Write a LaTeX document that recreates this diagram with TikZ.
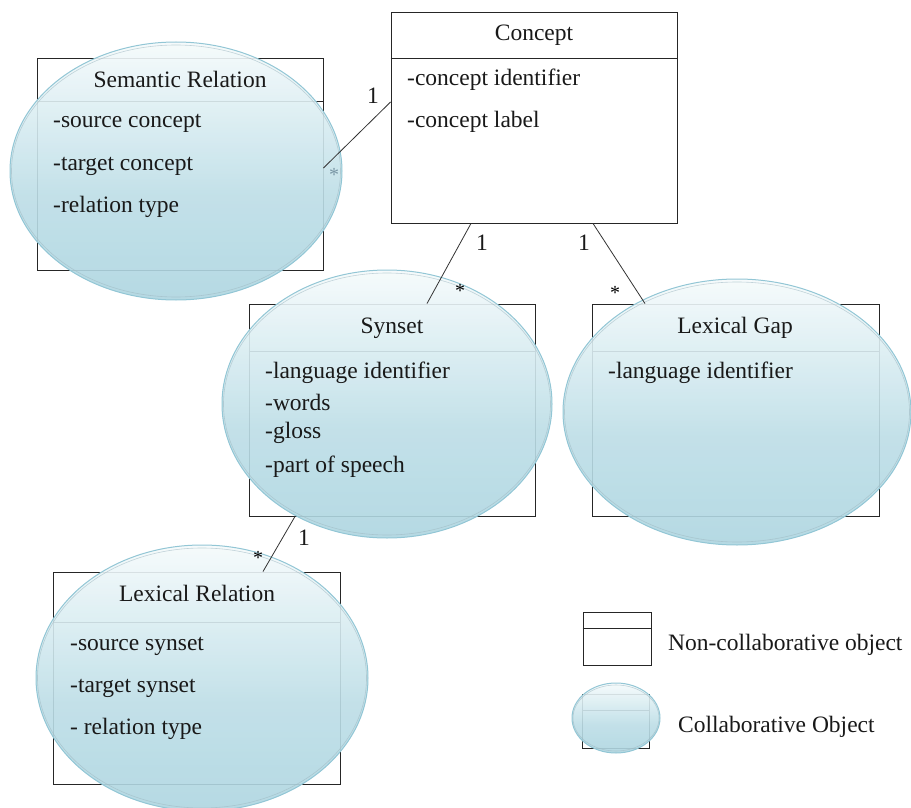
\documentclass[tikz,border=0pt]{standalone}
\usepackage{fontspec}
\setmainfont{Liberation Serif}
\definecolor{ellline}{HTML}{92C6D5}
\definecolor{ellinner}{HTML}{9FB9C2}
\definecolor{elltop}{HTML}{F5FAFB}
\definecolor{ellupper}{HTML}{D8ECF1}
\definecolor{ellmid}{HTML}{BCDDE6}
\definecolor{ellbot}{HTML}{ADD5E0}
\definecolor{stargrey}{HTML}{7A97A6}
\pgfdeclareverticalshading{collabshade}{100bp}{color(0bp)=(ellbot); color(25bp)=(ellbot); color(45bp)=(ellmid); color(60bp)=(ellupper); color(75bp)=(elltop); color(100bp)=(elltop)}
\tikzset{
 umlbox/.style={draw=black!85, line width=0.9pt, inner sep=0pt, minimum width=286pt, minimum height=212pt},
 hdr/.style={draw=black!85, line width=0.9pt},
 collab/.style={shading=collabshade, shade, fill opacity=0.9, draw=ellline, line width=1pt},
 glow/.style={draw=ellinner, line width=0.6pt, opacity=0.6},
 txt/.style={font=\fontsize{23.5}{28}\selectfont, inner sep=0pt, anchor=base west, text=black!90},
 ttl/.style={txt, anchor=base},
 mult/.style={font=\fontsize{23.5}{28}\selectfont, inner sep=0pt, anchor=center, text=black!90},
 starlbl/.style={font=\fontsize{20}{22}\selectfont, inner sep=0pt, anchor=center},
 conn/.style={draw=black!80, line width=0.8pt}
}
\begin{document}
\begin{tikzpicture}[x=1pt,y=-1pt]
\useasboundingbox (0,0) rectangle (911,808);
% ---------- boxes ----------
\node[umlbox, minimum height=211pt] (concept) at (534,117.5) {};
\node[umlbox] (semrel) at (180,164) {};
\node[umlbox] (synset) at (392,410) {};
\node[umlbox, minimum width=287pt] (lexgap) at (735.5,410) {};
\node[umlbox, minimum width=287pt] (lexrel) at (196.5,678) {};
\node[umlbox, minimum width=68pt, minimum height=53pt] (leg1) at (617,638.5) {};
\node[umlbox, minimum width=67pt, minimum height=54pt] (leg2) at (615.5,721) {};
% header lines
\draw[hdr] (concept.west |- 0,58) -- (concept.east |- 0,58);
\draw[hdr] (semrel.west |- 0,101) -- (semrel.east |- 0,101);
\draw[hdr] (synset.west |- 0,351) -- (synset.east |- 0,351);
\draw[hdr] (lexgap.west |- 0,351) -- (lexgap.east |- 0,351);
\draw[hdr] (lexrel.west |- 0,622) -- (lexrel.east |- 0,622);
\draw[hdr] (leg1.west |- 0,628) -- (leg1.east |- 0,628);
\draw[hdr] (leg2.west |- 0,710) -- (leg2.east |- 0,710);
% ---------- collaborative ellipses ----------
\path[collab] (176,171) ellipse [x radius=166, y radius=129];
\draw[glow] (176,171) ellipse [x radius=164.5, y radius=126];
\path[collab] (387,404) ellipse [x radius=165, y radius=134];
\draw[glow] (387,404) ellipse [x radius=163.5, y radius=131];
\path[collab] (737,412) ellipse [x radius=174, y radius=133];
\draw[glow] (737,412) ellipse [x radius=172.5, y radius=130];
\path[collab] (202,678) ellipse [x radius=166, y radius=133];
\draw[glow] (202,678) ellipse [x radius=164.5, y radius=130];
\path[collab] (616,718) ellipse [x radius=44, y radius=35];
\draw[glow] (616,718) ellipse [x radius=43, y radius=33];
% ---------- texts ----------
\node[ttl] (tconcept) at (534,41) {Concept};
\node[txt] (a1) at (407,86) {-concept identifier};
\node[txt] (a2) at (407,128) {-concept label};
\node[ttl] (tsem) at (180,88) {Semantic Relation};
\node[txt] (b1) at (53,128) {-source concept};
\node[txt] (b2) at (53,170) {-target concept};
\node[txt] (b3) at (53,212) {-relation type};
\node[ttl] (tsyn) at (392,333) {Synset};
\node[txt] (s1) at (265,378) {-language identifier};
\node[txt] (s2) at (265,410) {-words};
\node[txt] (s3) at (265,438) {-gloss};
\node[txt] (s4) at (265,472) {-part of speech};
\node[ttl] (tgap) at (735,333) {Lexical Gap};
\node[txt] (g1) at (608,378) {-language identifier};
\node[ttl] (tlex) at (197,601) {Lexical Relation};
\node[txt] (l1) at (70,650) {-source synset};
\node[txt] (l2) at (70,692) {-target synset};
\node[txt] (l3) at (70,734) {- relation type};
\node[txt] (legt1) at (668,650) {Non-collaborative object};
\node[txt] (legt2) at (678,732) {Collaborative Object};
% ---------- connectors ----------
\coordinate (e1a) at (concept.west |- 0,102);
\coordinate (e1b) at (semrel.east |- 0,168);
\coordinate (e2a) at (concept.south -| 471,0);
\coordinate (e2b) at (synset.north -| 427,0);
\coordinate (e3a) at (concept.south -| 593,0);
\coordinate (e3b) at (lexgap.north -| 645,0);
\coordinate (e4a) at (synset.south -| 295,0);
\coordinate (e4b) at (lexrel.north -| 263,0);
\draw[conn] (e1a) -- (e1b);
\draw[conn] (e2a) -- (e2b);
\draw[conn] (e3a) -- (e3b);
\draw[conn] (e4a) -- (e4b);
% multiplicities
\node[mult] (m1) at (373,95.5) {1};
\node[starlbl, text=stargrey] (st1) at (334,175) {*};
\node[mult] (m2) at (482,243) {1};
\node[starlbl] (st2) at (460,291) {*};
\node[mult] (m3) at (584,243) {1};
\node[starlbl] (st3) at (615,293) {*};
\node[mult] (m4) at (304,538) {1};
\node[starlbl] (st4) at (258,558) {*};
\end{tikzpicture}
\end{document}
